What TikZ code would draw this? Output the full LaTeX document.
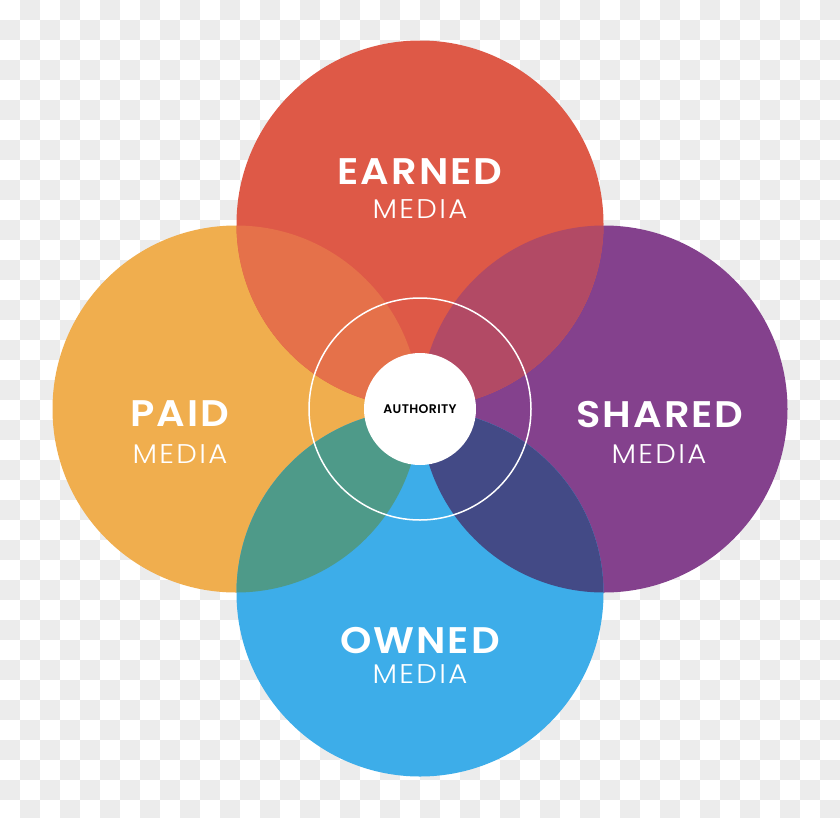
\documentclass[tikz,border=0pt]{standalone}
\usepackage{fontspec}
\setmainfont{Poppins}
\newfontfamily\lightfont{Poppins Light}[LetterSpace=8]
\newfontfamily\boldfont{Poppins SemiBold}[LetterSpace=5]
\newfontfamily\authfont{Poppins SemiBold}[LetterSpace=3]
\definecolor{earned}{HTML}{DE5947}
\definecolor{paid}{HTML}{F0AE4E}
\definecolor{shared}{HTML}{84418D}
\definecolor{owned}{HTML}{3DADE9}
\definecolor{pe}{HTML}{E5714A}
\definecolor{es}{HTML}{B24A65}
\definecolor{so}{HTML}{434A86}
\definecolor{po}{HTML}{4E9A89}
\definecolor{checker}{HTML}{ECECEC}
\newcommand{\wide}[1]{\scalebox{1.08}[1]{#1}}
\tikzset{
  media/.style={circle, minimum size=367pt, inner sep=0pt},
  title/.style={text=white, font=\boldfont\fontsize{37}{37}\selectfont, inner sep=0pt, anchor=base},
  sub/.style={text=white, font=\lightfont\fontsize{27}{27}\selectfont, inner sep=0pt, anchor=base},
}
\begin{document}
\begin{tikzpicture}[x=1pt,y=-1pt]
\useasboundingbox (0,0) rectangle (840,817);
% checkerboard background
\fill[white] (0,0) rectangle (840,817);
\foreach \i in {0,...,41}{
  \foreach \j in {0,...,40}{
    \pgfmathtruncatemacro{\parity}{mod(\i+\j,2)}
    \ifnum\parity=1 \fill[checker] (\i*20,\j*20) rectangle ++(20,20);\fi
  }
}
% circles
\node[media, fill=paid]   (paid)   at (236,409) {};
\node[media, fill=shared] (shared) at (604,409) {};
\node[media, fill=earned] (earned) at (420,224) {};
\node[media, fill=owned]  (owned)  at (420,593) {};
% overlaps
\begin{scope}
  \clip (paid.center) circle[radius=183.5pt];
  \fill[pe] (earned.center) circle[radius=183.5pt];
  \fill[po] (owned.center) circle[radius=183.5pt];
\end{scope}
\begin{scope}
  \clip (shared.center) circle[radius=183.5pt];
  \fill[es] (earned.center) circle[radius=183.5pt];
  \fill[so] (owned.center) circle[radius=183.5pt];
\end{scope}
% ring and centre
\node[circle, draw=white, line width=1.5pt, minimum size=222pt, inner sep=0pt] (ring) at (420,409) {};
\node[circle, fill=white, minimum size=112pt, inner sep=0pt, font=\authfont\fontsize{12.5}{12.5}\selectfont, text=black] (auth) at (420,409) {AUTHORITY};
% labels
\node[title] (tE) at (420,184) {\wide{EARNED}};
\node[sub]   (sE) at (420,218) {\wide{MEDIA}};
\node[title] (tP) at (180,426) {\wide{PAID}};
\node[sub]   (sP) at (180,463) {\wide{MEDIA}};
\node[title] (tS) at (660,427) {\wide{SHARED}};
\node[sub]   (sS) at (659,463) {\wide{MEDIA}};
\node[title] (tO) at (420,653) {\wide{OWNED}};
\node[sub]   (sO) at (420,683) {\wide{MEDIA}};
\end{tikzpicture}
\end{document}
